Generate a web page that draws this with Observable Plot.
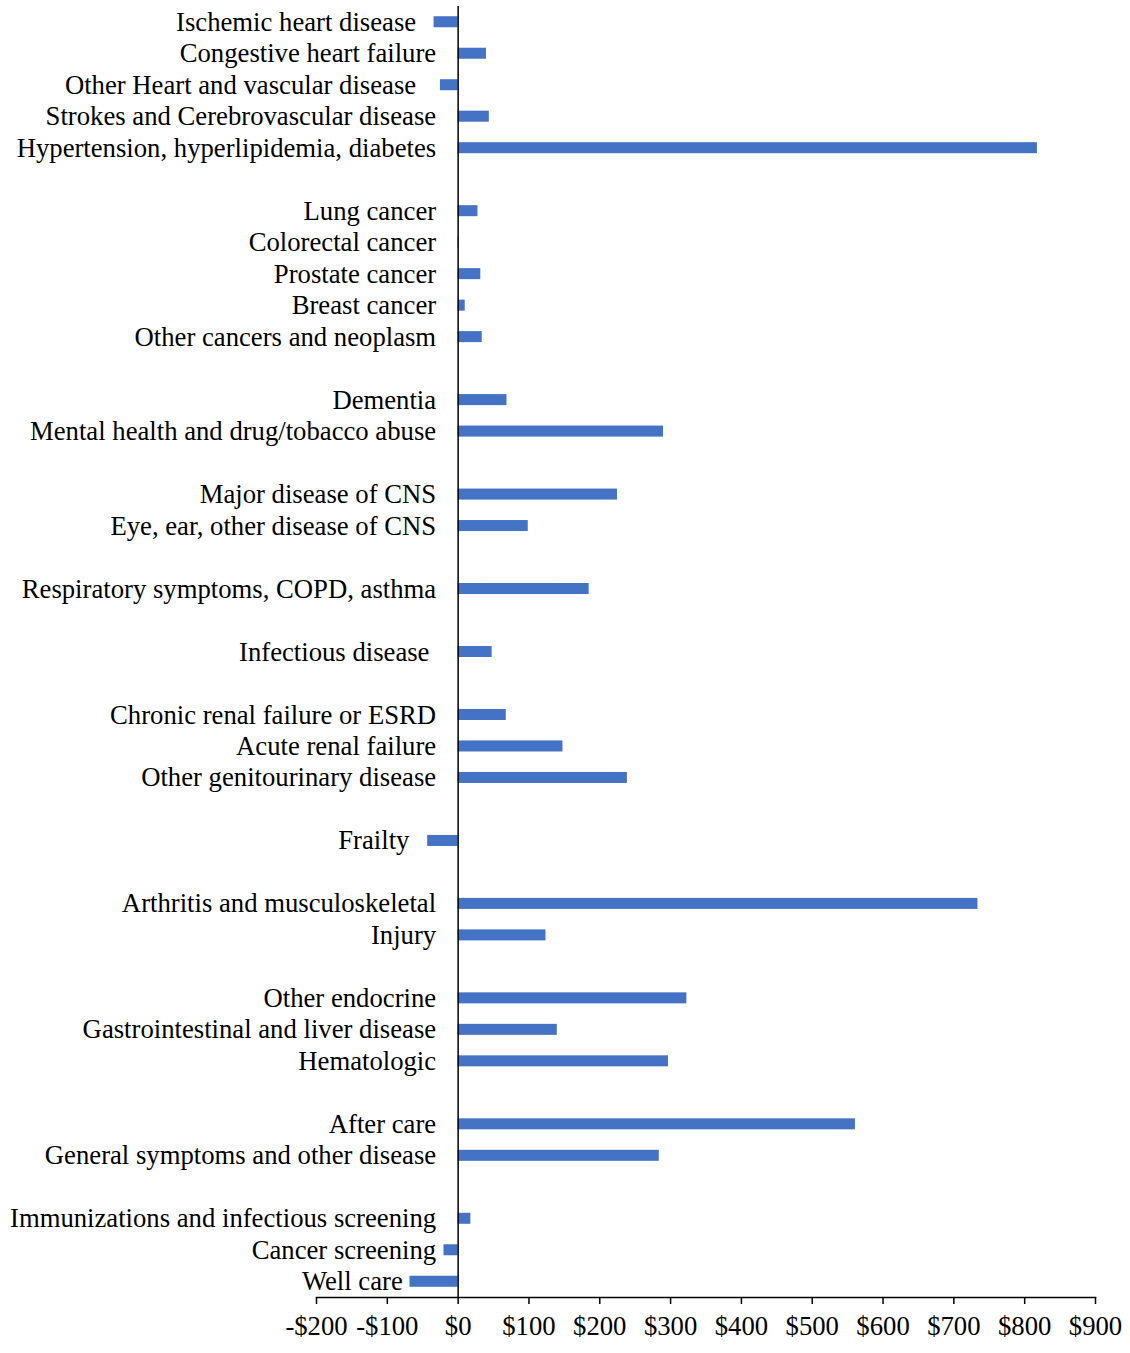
<!DOCTYPE html>
<html>
<head>
<meta charset="utf-8">
<script src="https://cdn.jsdelivr.net/npm/d3@7"></script>
<script src="https://cdn.jsdelivr.net/npm/@observablehq/plot@0.6"></script>
<style>
  html, body { margin: 0; padding: 0; background: #fff; }
</style>
</head>
<body>
<div id="chart"></div>
<script>
const NB = "\u00a0";
// Category groups (a blank row separates consecutive groups)
const groups = [
  ["Ischemic heart disease" + NB.repeat(3), "Congestive heart failure", "Other Heart and vascular disease" + NB.repeat(3), "Strokes and Cerebrovascular disease", "Hypertension, hyperlipidemia, diabetes"],
  ["Lung cancer", "Colorectal cancer", "Prostate cancer", "Breast cancer", "Other cancers and neoplasm"],
  ["Dementia", "Mental health and drug/tobacco abuse"],
  ["Major disease of CNS", "Eye, ear, other disease of CNS"],
  ["Respiratory symptoms, COPD, asthma"],
  ["Infectious disease" + NB],
  ["Chronic renal failure or ESRD", "Acute renal failure", "Other genitourinary disease"],
  ["Frailty" + NB.repeat(4)],
  ["Arthritis and musculoskeletal", "Injury"],
  ["Other endocrine", "Gastrointestinal and liver disease", "Hematologic"],
  ["After care", "General symptoms and other disease"],
  ["Immunizations and infectious screening", "Cancer screening", "Well care" + NB.repeat(5)]
];
// Values (dollars), in the same order as the categories above
const values = [
  -34, 40, -25, 44, 818,
  28, 1, 32, 10, 34,
  69, 290,
  225, 99,
  185,
  48,
  68, 148, 239,
  -43,
  734, 124,
  323, 140, 297,
  561, 284,
  18, -20, -68
];
const xTicks = [-200, -100, 0, 100, 200, 300, 400, 500, 600, 700, 800, 900];

// Build slot domain with blank separator rows
const slots = [];
const data = [];
let k = 0;
groups.forEach((g, gi) => {
  if (gi > 0) slots.push("__gap" + gi);
  g.forEach(name => {
    const key = "c" + k;
    slots.push(key);
    data.push({key, name, value: values[k]});
    k++;
  });
});

const fmt = d => d < 0 ? "-$" + (-d) : "$" + d;
const FONT = "'Liberation Serif', 'Times New Roman', serif";

const chart = Plot.plot({
  width: 1130,
  height: 1353,
  marginLeft: 316,
  marginRight: 35,
  marginTop: 6,
  marginBottom: 56,
  style: {fontFamily: FONT, fontSize: "26.7px", color: "#000", background: "#fff", overflow: "visible"},
  x: {domain: [-200, 900], ticks: xTicks},
  y: {domain: slots, paddingInner: 0.65, paddingOuter: 0.325, align: 0.5, round: false, axis: null},
  marks: [
    Plot.barX(data, {x: "value", y: "key", fill: "#4472C4"}),
    Plot.ruleX([0], {stroke: "#000", strokeWidth: 1.5}),
    Plot.frame({anchor: "bottom", stroke: "#000", strokeWidth: 1.5}),
    Plot.axisX({ticks: xTicks, tickFormat: fmt, tickSize: 7, tickPadding: 12, stroke: "#000", strokeWidth: 1.5, fontSize: 26.7, label: null}),
    Plot.text(data, {x: () => 0, y: "key", text: "name", textAnchor: "end", dx: -22, fontSize: 26.7, fill: "#000"})
  ]
});
document.getElementById("chart").appendChild(chart);
</script>
</body>
</html>
